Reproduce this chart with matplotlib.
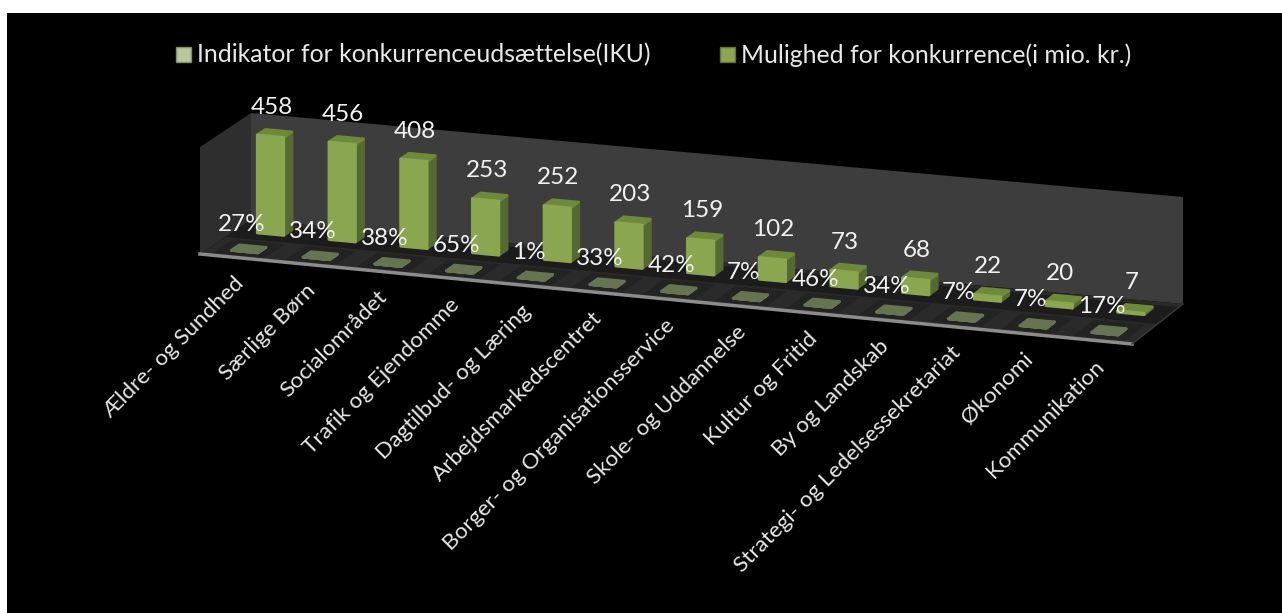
"""Faux 3-D column chart: two rows of bars on a skewed floor, black panel."""

import matplotlib

matplotlib.use("Agg")
import matplotlib.pyplot as plt
from matplotlib.patches import Polygon, Rectangle

categories = [
    "Ældre- og Sundhed",
    "Særlige Børn",
    "Socialområdet",
    "Trafik og Ejendomme",
    "Dagtilbud- og Læring",
    "Arbejdsmarkedscentret",
    "Borger- og Organisationsservice",
    "Skole- og Uddannelse",
    "Kultur og Fritid",
    "By og Landskab",
    "Strategi- og Ledelsessekretariat",
    "Økonomi",
    "Kommunikation",
]
mulighed = [458, 456, 408, 253, 252, 203, 159, 102, 73, 68, 22, 20, 7]
iku = [27, 34, 38, 65, 1, 33, 42, 7, 46, 34, 7, 7, 17]
series_names = ["Indikator for konkurrenceudsættelse(IKU)", "Mulighed for konkurrence(i mio. kr.)"]
z_max = 500

W, H = 1282, 613
plt.rcParams["font.family"] = ["Lato", "DejaVu Sans"]

# the chart's own oblique axes, in pixels of the picture
ORIGIN = (200, 254)
CAT_STEP = (932 / 13, 90 / 13)
Z_SCALE = 0.214


def project(cat, depth, value):
    """cat along the floor, depth 0..1 front to back, value upward."""
    dy = -34 - 6 * cat / 13
    x = ORIGIN[0] + cat * CAT_STEP[0] + depth * 51
    y = ORIGIN[1] + cat * CAT_STEP[1] + depth * dy - value * Z_SCALE
    return x, y


def quad(ax, pts, color, z, edge=None, lw=0):
    ax.add_patch(
        Polygon(pts, closed=True, facecolor=color, edgecolor=edge or color, linewidth=lw,
                joinstyle="round", zorder=z)
    )


def draw_box(ax, cat, d0, d1, half, value, front, side, top, z):
    l, r = cat - half, cat + half
    quad(ax, [project(r, d0, 0), project(r, d1, 0), project(r, d1, value), project(r, d0, value)], side, z, lw=2)
    quad(ax, [project(l, d0, value), project(r, d0, value), project(r, d1, value), project(l, d1, value)], top, z, lw=2)
    quad(ax, [project(l, d0, 0), project(r, d0, 0), project(r, d0, value), project(l, d0, value)], front, z + 0.1, lw=2)


fig = plt.figure(figsize=(W / 100, H / 100), dpi=100, facecolor="white")
ax = fig.add_axes([0, 0, 1, 1])
ax.set_xlim(0, W)
ax.set_ylim(H, 0)
ax.axis("off")
ax.add_patch(Rectangle((7, 13), W - 7, H - 13, facecolor="black", edgecolor="none", zorder=0))

n = len(categories)

# walls and floor
quad(ax, [project(0, 0, 0), project(0, 1, 0), project(0, 1, z_max), project(0, 0, z_max)], "#2e2e2e", 1)
quad(ax, [project(0, 1, 0), project(n, 1, 0), project(n, 1, z_max), project(0, 1, z_max)], "#3d3d3d", 1)
quad(ax, [project(0, 0, 0), project(n, 0, 0), project(n, 1, 0), project(0, 1, 0)], "#2a2a2a", 2)
# darker shadow bands on the floor around each row of bars
quad(ax, [project(0, 0.5, 0), project(n, 0.5, 0), project(n, 0.92, 0), project(0, 0.92, 0)], "#1c1c1c", 2.1)
for i in range(n):
    quad(ax, [project(i + 0.14, 0.06, 0), project(i + 0.86, 0.06, 0), project(i + 0.86, 0.46, 0), project(i + 0.14, 0.46, 0)],
         "#232323", 2.2)
ax.plot(*zip(project(0, 0, 0), project(n, 0, 0)), color="#8c8c8c", lw=2.5, zorder=3)
ax.plot(*zip(project(n, 0, 0), project(n, 1, 0)), color="#3a3a3a", lw=1, zorder=3)

# back row, drawn first
for i, val in enumerate(mulighed):
    draw_box(ax, i + 0.5, 0.68, 0.84, 0.185, val, "#8aa64e", "#556a30", "#6d8a3a", 5)
    x, y = project(i + 0.5, 0.68, val)
    ax.text(x + 1, y - 29, str(val), color="#f2f2f2", fontsize=17.5, ha="center", va="center", zorder=8)

# front row, the percentages barely lift off the floor
for i, val in enumerate(iku):
    draw_box(ax, i + 0.5, 0.17, 0.33, 0.185, val / 100, "#66754f", "#66754f", "#66754f", 4)
    x, y = project(i + 0.5, 0.25, 0)
    ax.text(x - 7, y - 24, f"{val}%", color="#f2f2f2", fontsize=17.5, ha="center", va="center", zorder=8)

for i, name in enumerate(categories):
    x, y = project(i + 0.5, 0, 0)
    ax.text(x + 5, y + 23, name, color="#e8e8e8", fontsize=16.2, rotation=45,
            rotation_mode="anchor", ha="right", va="center", zorder=8)

# legend
ax.add_patch(Rectangle((176, 47), 15, 15, facecolor="#b9c89a", edgecolor="#7f8f68", lw=1, zorder=8))
ax.text(197, 55, series_names[0], color="#e8e8e8", fontsize=17.9, va="center", zorder=8)
ax.add_patch(Rectangle((720, 47), 15, 15, facecolor="#8aa64e", edgecolor="#5f7438", lw=1, zorder=8))
ax.text(741, 55, series_names[1], color="#e8e8e8", fontsize=17.9, va="center", zorder=8)

fig.savefig("out.png", dpi=100, facecolor="white")
